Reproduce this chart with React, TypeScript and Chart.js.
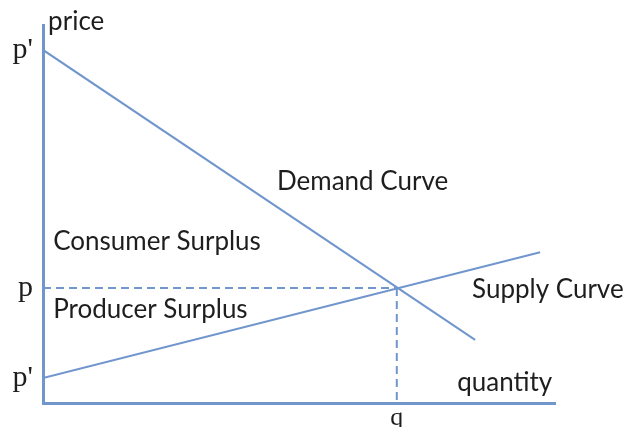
import React, { useEffect, useRef } from "react";
import { Chart, registerables } from "chart.js";

Chart.register(...registerables);

// Demand and supply curves (endpoints, in chart units)
const demandX = [0, 8.44];
const demandY = [9.34, 1.67];
const supplyX = [0, 9.71];
const supplyY = [0.66, 3.99];
// Equilibrium
const eqQuantity = 6.91;
const eqPrice = 3.04;
// Axis tick labels
const yTickValues = [9.34, 3.04, 0.66];
const yTickLabels = ["p'", "p", "p'"];
const xTickValues = [6.91];
const xTickLabels = ["q"];
// Text annotations
const noteTexts = ["price", "Demand Curve", "Consumer Surplus", "Producer Surplus", "Supply Curve", "quantity"];
const noteX = [0.1, 4.57, 0.2, 0.2, 8.38, 8.09];
const noteY = [10.08, 5.85, 4.26, 2.46, 2.99, 0.53];

const BLUE = "#7196cd";
const TEXT = "#1e1e1e";

const notesPlugin = {
  id: "notes",
  afterDraw(chart: any) {
    const { ctx, scales } = chart;
    ctx.save();
    ctx.font = "26px Lato";
    ctx.fillStyle = TEXT;
    ctx.textAlign = "left";
    ctx.textBaseline = "middle";
    noteTexts.forEach((t, i) => {
      ctx.fillText(t, scales.x.getPixelForValue(noteX[i]), scales.y.getPixelForValue(noteY[i]));
    });
    ctx.restore();
  },
};

export default function App() {
  const ref = useRef<HTMLCanvasElement>(null);
  useEffect(() => {
    const line = (xs: number[], ys: number[]) => xs.map((x, i) => ({ x, y: ys[i] }));
    const chart = new Chart(ref.current!, {
      type: "scatter",
      data: {
        datasets: [
          { data: line(demandX, demandY), showLine: true, borderColor: BLUE, borderWidth: 2, pointRadius: 0 },
          { data: line(supplyX, supplyY), showLine: true, borderColor: BLUE, borderWidth: 2, pointRadius: 0 },
          {
            data: [{ x: 0, y: eqPrice }, { x: eqQuantity, y: eqPrice }],
            showLine: true, borderColor: BLUE, borderWidth: 2, borderDash: [8, 5], pointRadius: 0,
          },
          {
            data: [{ x: eqQuantity, y: eqPrice }, { x: eqQuantity, y: 0 }],
            showLine: true, borderColor: BLUE, borderWidth: 2, borderDash: [8, 5], pointRadius: 0,
          },
        ],
      },
      options: {
        animation: false,
        responsive: false,
        layout: { padding: { top: 25, right: 70, left: 0, bottom: 0 } },
        plugins: { legend: { display: false }, tooltip: { enabled: false } },
        scales: {
          x: {
            type: "linear",
            min: 0,
            max: 10,
            grid: { display: false, drawTicks: false },
            border: { display: true, color: BLUE, width: 3 },
            afterBuildTicks: (s: any) => { s.ticks = xTickValues.map((v) => ({ value: v })); },
            afterFit: (s: any) => { s.height = 24; s.paddingLeft = 0; s.paddingRight = 0; },
            ticks: {
              autoSkip: false,
              padding: 0,
              color: TEXT,
              font: { family: "Liberation Serif", size: 26 },
              callback: (_v: any, i: number) => xTickLabels[i],
            },
          },
          y: {
            type: "linear",
            min: 0,
            max: 10,
            grid: { display: false, drawTicks: false },
            border: { display: true, color: BLUE, width: 3 },
            afterBuildTicks: (s: any) => { s.ticks = yTickValues.map((v) => ({ value: v })); },
            afterFit: (s: any) => { s.width = 43; s.paddingTop = 0; s.paddingBottom = 0; },
            ticks: {
              autoSkip: false,
              padding: 10,
              color: TEXT,
              font: { family: "Liberation Serif", size: 30 },
              callback: (_v: any, i: number) => yTickLabels[i],
            },
          },
        },
      },
      plugins: [notesPlugin],
    });
    return () => chart.destroy();
  }, []);
  return (
    <div style={{ position: "fixed", left: 0, top: 0, width: 625, height: 427, background: "#fff" }}>
      <canvas ref={ref} width={625} height={427} />
    </div>
  );
}
